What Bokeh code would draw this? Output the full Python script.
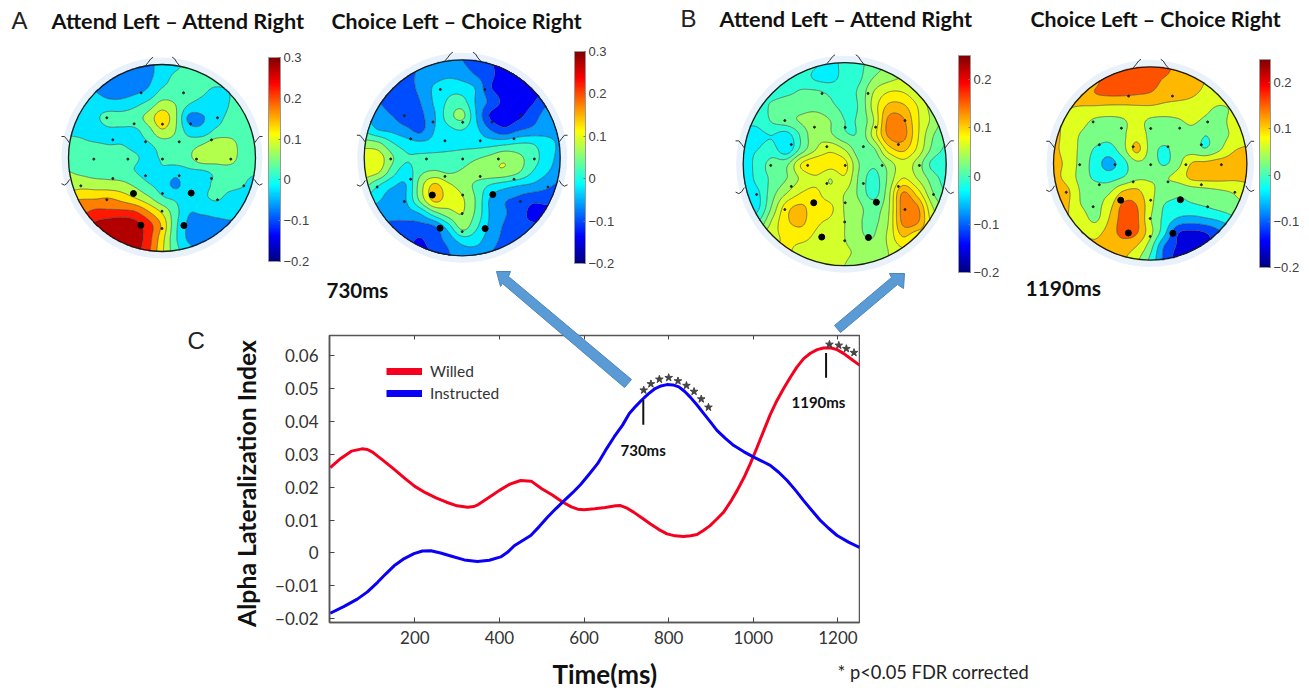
import numpy as np
from bokeh.core.properties import value
from bokeh.embed import file_html
from bokeh.layouts import column
from bokeh.models import (ColorBar, FixedTicker, Legend, LegendItem, LinearAxis,
                          LinearColorMapper, Range1d)
from bokeh.plotting import figure
from bokeh.resources import INLINE

# ---------- line chart data ----------
willed_t = [0,25,50,75,88,100,125,150,175,200,225,250,275,300,325,340,350,375,400,425,450,475,500,525,550,570,585,600,625,650,675,686,700,717,737,757,777,796,815,835,852,867,882,898,914,930,946,962,978,993,1009,1025,1040,1056,1072,1088,1103,1119,1135,1151,1166,1182,1198,1214,1232,1251]
willed_v = [.0259,.0287,.0309,.0316,.0314,.0306,.0281,.0255,.0228,.0202,.0183,.0167,.0154,.0143,.0139,.0141,.0147,.0168,.0190,.0209,.0220,.0218,.0195,.0176,.0154,.0140,.0133,.0131,.0134,.0138,.0143,.0144,.0137,.0124,.0106,.0088,.0071,.0058,.0052,.0050,.0052,.0056,.0068,.0083,.0103,.0124,.0155,.0190,.0229,.0271,.0321,.0372,.0420,.0463,.0500,.0534,.0564,.0590,.0606,.0617,.0622,.0623,.0617,.0605,.0588,.0570]
instr_t = [0,33,64,88,112,131,151,175,198,218,238,261,285,317,348,376,403,419,435,455,474,494,514,533,553,573,592,612,632,651,671,691,707,722,737,752,768,782,796,810,824,838,851,867,883,899,914,934,954,978,1001,1020,1040,1060,1080,1100,1119,1139,1159,1178,1198,1225,1251]
instr_v = [-.0183,-.0162,-.0140,-.0118,-.0089,-.0064,-.0039,-.0017,-.0002,.0006,.0007,.0000,-.0009,-.0021,-.0026,-.0022,-.0012,.0002,.0022,.0038,.0053,.0080,.0109,.0134,.0159,.0183,.0208,.0239,.0271,.0312,.0352,.0388,.0423,.0445,.0465,.0483,.0499,.0507,.0511,.0510,.0504,.0490,.0473,.0449,.0423,.0397,.0372,.0348,.0326,.0307,.0291,.0279,.0266,.0245,.0220,.0190,.0159,.0128,.0098,.0075,.0053,.0033,.0017]
stars_blue_t = [741,758,778,800,822,842,860,877,894]
stars_blue_v = [.0494,.0513,.0527,.0532,.0522,.0508,.0490,.0467,.0442]
stars_red_t = [1180,1202,1220,1238]
stars_red_v = [.0633,.0630,.0620,.0608]
x_ticks = [200,400,600,800,1000,1200]
y_ticks = [-.02,-.01,0,.01,.02,.03,.04,.05,.06]
y_tick_labels = ["\u22120.02","\u22120.01","0","0.01","0.02","0.03","0.04","0.05","0.06"]

# ---------- scalp map values (hundredths), top row first, left column first ----------
map_a = [
[-7,-7,-7,-7,-7,-7,-7,-2,-1,1,2,2,2,2,2],
[-5,-6,-7,-7,-7,-7,-6,-2,1,2,2,2,2,2,2],
[-3,-3,-5,-7,-7,-6,-4,1,2,3,1,-1,0,2,2],
[-2,-2,-2,-3,-3,-1,2,7,5,0,-2,-3,0,2,2],
[-2,-2,-1,2,2,3,7,13,6,-6,-5.5,-2,1,2,2],
[-1,-1,-2,-1,-1,-1,3,9,5,-2,-3,1,2,2,2],
[2,1,.5,0,0,-1,-.5,2,3,3,5,8,8,3,2],
[3,3,3,3,2,.5,-1,.5,3,4,8,8,8,3,2],
[5,4,3,3,2,0,-2,-.5,-3,-1,-.5,1,2,1.5,1],
[7,8,7.5,7,6.5,4,.5,-2,-6,-2,-1,.5,1,.5,-3],
[14,14.5,14.5,15,13,10,6,1,-1,-3,-1,.5,-1,-3,-6],
[20,19,21,21,21,20,15,9,2,-4.5,-4,-3,-3,-3.5,-5],
[24,24,26,28,29,27,22,14,1.5,-6,-8,-7,-6,-6,-6],
[26,28,28,29,29,28,22,12,1,-6,-8,-7,-7,-7,-7],
[28,28,29,29,29,27,21,11,2,-3,-6,-7,-7,-7,-7],
]
map_b = [
[-12,-12,-12,-11,-8,-6.5,-6,-8,-10,-12,-13,-13,-13,-13,-13],
[-12,-12,-12,-10,-7,-6,-5,-6,-8.5,-11,-14,-14,-14,-14,-14],
[-10,-10,-10,-9.5,-7,-3.5,-1.5,-2,-4.5,-11.5,-14,-15,-14,-13,-13],
[-8,-8,-10,-10.5,-8,-3.5,.5,1.5,-4.5,-9,-13,-13.5,-12.5,-9,-8],
[-4,-6,-8,-10.5,-9,-4.5,2,5,-4,-12.5,-14,-13,-10,-6.5,-5.5],
[-1,-4,-5,-7,-9,-4,-1,0,-3,-8,-11,-8.5,-7,-5.5,-5],
[6,5,.5,-2,-3,-2.5,-1.5,-1,-1.5,-1.5,-.8,.2,0,-2.5,-4.5],
[11,10,4.5,.5,1,1.5,1.5,2,3.5,5,7,5,2,-2,-5],
[10,8.5,2,-2,3,4.5,3.5,4.5,6,7,7,4.5,0,-3.5,-6],
[5,0,-3.5,-4,6,13,9,6.5,3,-.5,-2.5,-4,-5,-7,-9],
[-2,-3.5,-6,-4,5,13,10,8.5,3.5,-4.5,-7.5,-9,-11,-11,-11],
[-6,-6,-7,-6,-4,2,6,8,3,-4.5,-7.5,-10,-13,-13,-13],
[-9,-9,-9,-10,-10,-9,-2.5,5,.5,-5,-8.5,-11,-11,-11,-11],
[-11,-11,-10,-11,-12.5,-10,-7,-3,-3,-6.5,-9,-10,-10,-10,-10],
[-13,-13,-13,-13,-13,-12,-8.5,-6,-6,-8,-10,-10,-10,-10,-10],
]
map_c = [
[-1,-1,-1,-1,-1,-2,-3.5,-1.5,-.5,1,3,4,5,6,6],
[1,.5,0,-.5,-1,-3,-3.5,-1.5,-.5,2.5,4,5,5,5,5],
[0,-.5,-1,-.5,.2,.3,-.5,-1,.5,5,7.4,7.4,5.5,3,2],
[-1.5,-1.5,.5,1.5,1.5,1.5,.5,-.5,.3,6,10.5,10.5,7.5,4,2],
[-2,-2,.3,1.5,2.8,4,2.5,0,.5,5,13,13,8,4.5,1.5],
[-3,-3,-2.5,-3.5,.5,4.2,3,.5,.5,6,12.8,13.5,8,3,.5],
[-3,-2.5,-1.5,-4,1,5,7,5,1,2,8.5,10.5,7,2,-.5],
[-4,-1.5,1,2,7.6,9.5,8.5,8.3,2.5,.5,3.5,6.5,4,-.5,-1.5],
[-5,-1.5,.5,2.5,5.5,7,5,7,2,-1,3,7.6,5,1.5,-1],
[-5,-3,1.5,5,7.6,8,6,5,2,-1,4,12.7,9,3,0],
[-4,-3,3,9,10.5,8.3,8,4.8,3,1.5,4.5,13.5,13,5.5,2],
[-1,0,5.5,9.5,10.5,8,7,5,2.8,2,5,13,12.8,7,5],
[5,5,7,7.8,8.4,7,6,5,3,2.5,5.5,10,8,8,8],
[7,7,7,7.8,6.5,6,5.5,5.3,4.5,3.5,5,7,7,7,7],
[7,7,7,7,6,5.5,5.3,5,4,3.5,5,7,7,7,7],
]
map_d = [
[12,12,13,15,15,15,15,15,15,12,11,10,9,9,9],
[12,12,12,13,15,16,16,15.5,13,12,11,9,8,8,8],
[10,10,11.5,13.3,14,14,13.6,13,11,10.5,9.5,8,7,7,7],
[10,9.2,8.5,8,7.5,7.5,8,8,7.5,7,7,5.5,4,5,6],
[10,8,6,3.5,3,3.8,6,3.5,3,3.8,5,3.5,3,6,8],
[10,7.5,4,2.5,1.5,3.5,7.5,3.5,3,2.5,3,0,2.5,5.5,8],
[10,7,3.5,-.5,-2,2.5,10,3,-1,2.5,2.5,.5,4,8.5,9.5],
[11,7.5,3,-2,-6,-2,3.5,2.5,-.5,3,9.2,10,11,11,11],
[11,7,3,-1,-2,0,3.5,4,4,6,10,10.5,10.5,10,10],
[14,10,4,3,3.5,8.9,10,5.5,3,1,2,3,4,5,7],
[11,9.5,4.5,3,7,14,13.5,6,0,-1,-.5,.5,2,3,4],
[10,9,7,3.5,9,15,14.5,5,-1,-5,-6,-5,-3.5,-1,1],
[10,9,9,8,10.5,15,14,6,-3,-13,-14.5,-13.5,-10,-7,-3],
[10,10,10,9.5,10,11,9,2,-9,-14,-15,-15,-12,-10,-8],
[9.5,9.5,9.5,9.5,9.5,9.5,5.5,-1,-10,-15,-15,-15,-14,-12,-10],
]

# electrode layout, unit head
elec_x = [-.223,.23,-.59,-.298,.005,.305,.594,-.526,-.176,.184,.529,-.729,-.365,.005,.369,.736,-.526,-.176,.184,.529,-.868,.875,-.59,.005,.594,0,0]
elec_y = [-.697,-.697,-.43,-.365,-.362,-.365,-.43,-.194,-.173,-.173,-.194,.012,.012,.012,.012,.012,.219,.19,.19,.219,.298,.298,.447,.38,.447,.569,.754]
big_x = [-.305,.312,-.226,.234]
big_y = [.38,.375,.718,.722]
nose_x = [[-.176,-.15,-.12,-.095],[.109,.135,.16,.187]]
nose_y = [[-.989,-1.02,-1.06,-1.078],[-1.078,-1.06,-1.02,-.989]]
ear_x = [[-.989,-1.014,-1.043,-1.075],[-.989,-1.014,-1.043,-1.075],[.989,1.014,1.043,1.075],[.989,1.014,1.043,1.075]]
ear_y = [[-.16,-.195,-.23,-.23],[.23,.27,.29,.275],[-.16,-.195,-.23,-.23],[.23,.27,.29,.275]]

PAGE_L, PAGE_T, PAGE_W, PAGE_H = 0, 0, 1309, 690

def jet(f):
    f = min(max(f, 0), 1)
    c = lambda k: min(max(1.5 - abs(4*f - k), 0), 1)
    return "#%02x%02x%02x" % (int(c(3)*255), int(c(2)*255), int(c(1)*255))

def smooth(a, n):
    a = np.asarray(a, float)
    m = a.shape[0]
    u = np.linspace(0, m-1, n)
    i = np.clip(np.floor(u).astype(int), 0, m-2)
    t = u - i
    w = [(-t**3+2*t**2-t)/2, (3*t**3-5*t**2+2)/2, (-3*t**3+4*t**2+t)/2, (t**3-t**2)/2]
    idx = [np.clip(i+k, 0, m-1) for k in (-1, 0, 1, 2)]
    return sum(w[k][:, None]*a[idx[k]] for k in range(4))

# page layer: pixel coordinates
page = figure(width=PAGE_W, height=PAGE_H, x_range=Range1d(PAGE_L, PAGE_L+PAGE_W),
              y_range=Range1d(PAGE_T+PAGE_H, PAGE_T), x_axis_type=None, y_axis_type=None,
              toolbar_location=None, output_backend="svg", min_border=0,
              min_border_left=0, min_border_right=0, min_border_top=0, min_border_bottom=0,
              background_fill_alpha=0, border_fill_alpha=0, outline_line_color=None)
page.grid.visible = False

def head(z, cx, cy, r, low, high, start, step, bar, bar_high, ticks):
    page.annulus([cx], [cy], inner_radius=r-1, outer_radius=r+7, fill_color="#e9f1fb", line_color=None)
    n = 190
    zz = smooth(smooth(z, n).T, n).T/100
    xs = np.linspace(cx-r, cx+r, n)
    ys = np.linspace(cy-r, cy+r, n)
    xx, yy = np.meshgrid(xs, ys)
    zz = np.clip(zz, start+1e-3, high-1e-3)
    zz = np.where((xx-cx)**2+(yy-cy)**2 > (r+1)**2, np.nan, zz)
    lv = list(np.arange(start, high+step*2, step))
    cols = [jet(((a+b)/2-low)/(high-low)) for a, b in zip(lv[:-1], lv[1:])]
    page.contour(xs, ys, zz, levels=lv, fill_color=cols, line_color="#3a3a3a", line_width=.8, line_alpha=.75)
    page.circle([cx], [cy], radius=r, fill_color=None, line_color="#1a1a1a", line_width=1.3)
    page.multi_line([[cx+r*v for v in row] for row in nose_x+ear_x],
                    [[cy+r*v for v in row] for row in nose_y+ear_y], line_color="#333", line_width=1)
    page.scatter([cx+r*v for v in elec_x], [cy+r*v for v in elec_y], size=2, color="#222")
    page.scatter([cx+r*v for v in big_x], [cy+r*v for v in big_y], size=6, color="black")
    bx, btop, bw, bh = bar
    mapper = LinearColorMapper(palette=[jet(i/255) for i in range(256)], low=low, high=bar_high)
    cb = ColorBar(color_mapper=mapper, location=(bx-PAGE_L, PAGE_T+PAGE_H-btop-bh), width=bw, height=bh,
                  padding=0, margin=0, background_fill_alpha=0, border_line_color=None,
                  ticker=FixedTicker(ticks=ticks), bar_line_color="#999",
                  major_label_overrides={t: (("\u2212%.1f" % -t) if t < 0 else ("0" if t == 0 else "%.1f" % t)) for t in ticks},
                  major_label_text_font="Liberation Sans", major_label_text_font_size="13px",
                  major_label_text_color="#404040", major_tick_line_color="#777", major_tick_in=2,
                  minor_tick_line_color=None, label_standoff=3)
    page.add_layout(cb)

ticks3 = [-.2,-.1,0,.1,.2,.3]
ticks2 = [-.2,-.1,0,.1,.2]
head(map_a, 161.5, 157.5, 93.5, -.2, .3, -.2, .05, (268, 57, 12, 204), .3, ticks3)
head(map_b, 461.7, 157.3, 98, -.2, .3, -.2, .04, (574, 51, 11, 212), .3, ticks3)
head(map_c, 844.2, 163.7, 101.5, -.2, .25, -.2, .025, (958, 55, 12, 217), .25, ticks2)
head(map_d, 1149.7, 163, 96.7, -.2, .25, -.225, .045, (1259, 59, 11, 208), .25, ticks2)

# arrows
arrow1_x = [631,508,510,496,500,502,624]
arrow1_y = [379,276,271,271,286,283,387]
arrow2_x = [834,891,889,904,903,897,840]
arrow2_y = [325,277,273,273,288,284,332]
for ax, ay in ((arrow1_x, arrow1_y), (arrow2_x, arrow2_y)):
    page.patch(ax, ay, fill_color="#5b9bd5", line_color="#4a86bb", line_width=1)

def label(x, y, s, size, font="Lato", style="normal", color="#111", align="left", angle=0):
    page.text([x], [y], text=[s], text_font=value(font), text_font_style=style, text_font_size=f"{size}px",
              text_color=color, text_align=align, text_baseline="middle", angle=angle)

label(11, 20, "A", 24, "Liberation Sans", color="#222")
label(680, 18, "B", 24, "Liberation Sans", color="#222")
label(187, 340, "C", 24, "Liberation Sans", color="#222")
label(51, 20, "Attend Left \u2013 Attend Right", 21.7, style="bold")
label(331, 20, "Choice Left \u2013 Choice Right", 21.3, style="bold")
label(719, 18, "Attend Left \u2013 Attend Right", 21.7, style="bold")
label(1030, 18, "Choice Left \u2013 Choice Right", 21.3, style="bold")
label(326, 289, "730ms", 20.5, style="bold")
label(1025, 287, "1190ms", 21, style="bold")
label(620, 449, "730ms", 15, style="bold")
label(791, 401, "1190ms", 15, style="bold")
label(837, 671, "* p<0.05 FDR corrected", 18.3, color="#222")
label(552, 673, "Time(ms)", 26, style="bold")
label(246, 483, "Alpha Lateralization Index", 24.8, style="bold", align="center", angle=np.pi/2)

# line chart
CH_L, CH_T, CH_W, CH_H = 240, 325, 620, 335
chart = figure(width=CH_W, height=CH_H, x_range=Range1d(-1.65, 1251), y_range=Range1d(-.0211, .0660),
               toolbar_location=None, output_backend="svg", min_border_left=89, min_border_right=1,
               min_border_top=10, min_border_bottom=38, background_fill_alpha=0, border_fill_alpha=0,
               outline_line_color="#555", outline_line_width=1.5)
chart.grid.visible = False
for ax, tk in ((chart.xaxis[0], x_ticks), (chart.yaxis[0], y_ticks)):
    ax.ticker = FixedTicker(ticks=tk)
    ax.major_tick_in, ax.major_tick_out = 5, 0
    ax.minor_tick_line_color = None
    ax.axis_line_color = "#555"
    ax.axis_line_width = 1.5
    ax.major_tick_line_color = "#444"
    ax.major_label_text_font = "Lato"
    ax.major_label_text_font_size = "17px"
    ax.major_label_text_color = "#333"
chart.xaxis[0].major_label_standoff = 8
chart.yaxis[0].major_label_standoff = 11
chart.yaxis[0].major_label_overrides = dict(zip(y_ticks, y_tick_labels))
top = LinearAxis(ticker=FixedTicker(ticks=x_ticks), major_label_overrides={t: "" for t in x_ticks},
                 major_tick_in=4, major_tick_out=0, minor_tick_line_color=None, axis_line_color=None,
                 major_tick_line_color="#444", major_label_standoff=0, major_label_text_font_size="1px")
chart.add_layout(top, "above")

red = chart.line(willed_t, willed_v, line_color="#f5001e", line_width=3, line_join="round")
blue = chart.line(instr_t, instr_v, line_color="#0a00f5", line_width=3, line_join="round")
chart.segment([740, 1172], [.0464, .0607], [740, 1172], [.0389, .0532], line_color="#111", line_width=2)
chart.scatter(stars_blue_t, stars_blue_v, marker="star", size=8, color="#444")
chart.scatter(stars_red_t, stars_red_v, marker="star", size=8, color="#444")
lg_red = chart.line([-900, -800], [0, 0], line_color="#f5001e", line_width=7)
lg_blue = chart.line([-900, -800], [0, 0], line_color="#0a00f5", line_width=7)
legend = Legend(items=[LegendItem(label="Willed", renderers=[lg_red]), LegendItem(label="Instructed", renderers=[lg_blue])],
                location=(57, 220), padding=0, margin=0, spacing=4, glyph_width=36, glyph_height=14,
                label_standoff=8, label_text_font="Lato", label_text_font_size="15.5px", label_text_color="#333",
                background_fill_alpha=0, border_line_color=None)
chart.add_layout(legend)

# two independent wrappers, so that the frames of the two plots are not aligned
lower = column(chart, margin=(CH_T-PAGE_T, 0, 0, CH_L-PAGE_L))
upper = column(page, margin=(-(CH_T-PAGE_T+CH_H), 0, 0, 0))
root = column(lower, upper, spacing=0)
open("out.html", "w").write(file_html(root, INLINE))
